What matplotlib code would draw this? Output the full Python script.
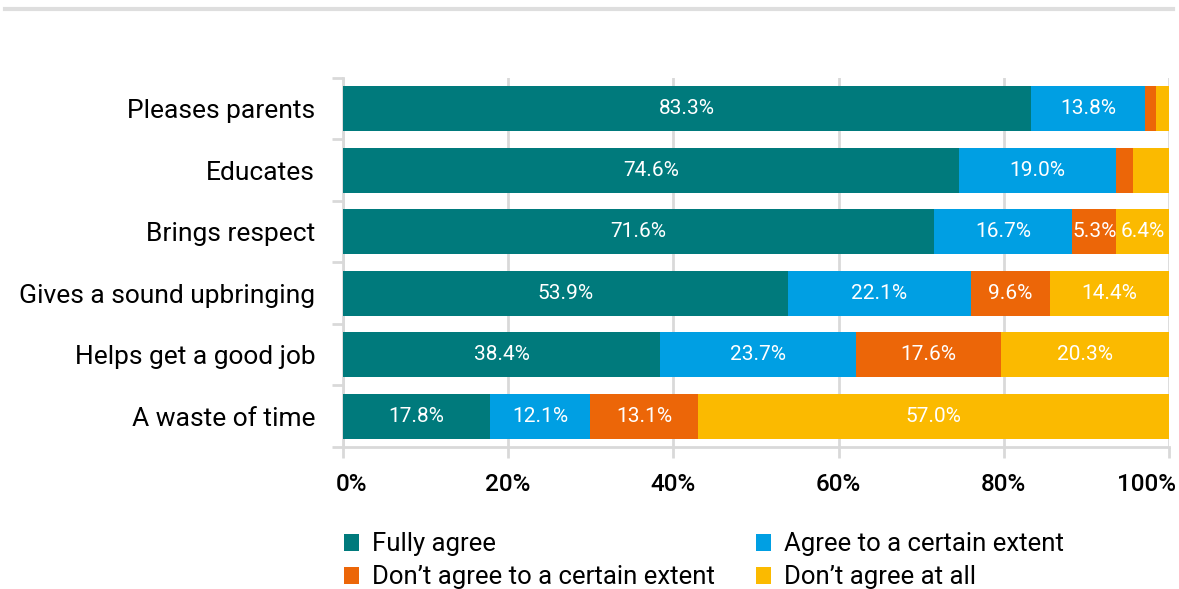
import matplotlib
matplotlib.use("Agg")
import matplotlib.pyplot as plt
from matplotlib.lines import Line2D
from matplotlib.patches import Patch
from matplotlib.transforms import ScaledTranslation
import numpy as np

categories = ["Pleases parents", "Educates", "Brings respect",
              "Gives a sound upbringing", "Helps get a good job", "A waste of time"]
series_names = ["Fully agree", "Agree to a certain extent",
                "Don\u2019t agree to a certain extent", "Don\u2019t agree at all"]
fully_agree = [83.3, 74.6, 71.6, 53.9, 38.4, 17.8]
agree_somewhat = [13.8, 19.0, 16.7, 22.1, 23.7, 12.1]
disagree_somewhat = [1.3, 2.0, 5.3, 9.6, 17.6, 13.1]
disagree_all = [1.6, 4.4, 6.4, 14.4, 20.3, 57.0]
# segments too narrow to carry a label
unlabeled = [(0, 2), (0, 3), (1, 2), (1, 3)]
tick_values = [0, 20, 40, 60, 80, 100]
tick_labels = ["0%", "20%", "40%", "60%", "80%", "100%"]

colors = ["#007A7C", "#009FE3", "#EC6608", "#FBBA00"]
plt.rcParams["font.family"] = ["Roboto", "DejaVu Sans"]

fig = plt.figure(figsize=(11.79, 5.89), dpi=100)
ax = fig.add_axes([0.2909, 0.2411, 0.9915 - 0.2909, 0.8676 - 0.2411])

series = [fully_agree, agree_somewhat, disagree_somewhat, disagree_all]
y = np.arange(len(categories))
left = np.zeros(len(categories))
for si, (vals, col) in enumerate(zip(series, colors)):
    vals = np.array(vals)
    ax.barh(y, vals, left=left, height=0.73, color=col, zorder=3)
    for ci, v in enumerate(vals):
        if (ci, si) in unlabeled:
            continue
        ax.text(left[ci] + v / 2, y[ci], f"{v:.1f}%", ha="center", va="center",
                color="white", fontsize=15, zorder=4)
    left += vals

ax.set_xlim(0, 100)
ax.set_ylim(len(categories) - 0.5, -0.5)
ax.set_xticks(tick_values)
ax.set_xticklabels(tick_labels, fontsize=17.5, fontweight="medium")
ax.set_yticks(y)
ax.set_yticklabels(categories, fontsize=19)
ax.tick_params(axis="y", length=0, pad=20)
ax.tick_params(axis="x", length=8, width=2, color="#D9D9D9", pad=11)

# keep the end labels inside the plotting width
xt = ax.get_xticklabels()
xt[0].set_horizontalalignment("left")
xt[0].set_transform(xt[0].get_transform() + ScaledTranslation(-7 / 100, 0, fig.dpi_scale_trans))
xt[-1].set_horizontalalignment("right")
xt[-1].set_transform(xt[-1].get_transform() + ScaledTranslation(7 / 100, 0, fig.dpi_scale_trans))

# boundary ticks on the category axis
ax.set_yticks(np.arange(len(categories) + 1) - 0.5, minor=True)
ax.tick_params(axis="y", which="minor", length=8, width=2, color="#D9D9D9")

ax.grid(axis="x", color="#D9D9D9", linewidth=2, zorder=0)
for s in ["top", "right"]:
    ax.spines[s].set_visible(False)
for s in ["left", "bottom"]:
    ax.spines[s].set_color("#D9D9D9")
    ax.spines[s].set_linewidth(2)

# header rule
fig.add_artist(Line2D([0.004, 0.995], [0.984, 0.984], color="#DEDEDE", linewidth=3,
                      transform=fig.transFigure))

# legend filled column by column: two rows, two columns
order = [0, 2, 1, 3]
handles = [Patch(facecolor=colors[i], edgecolor="none") for i in order]
labels = [series_names[i] for i in order]
leg = fig.legend(handles, labels, ncol=2, loc="upper left",
                 bbox_to_anchor=(0.2915, 0.096), frameon=False, fontsize=18.5,
                 handlelength=0.6, handleheight=0.6, handletextpad=0.5,
                 columnspacing=1.6, labelspacing=0.35, borderaxespad=0,
                 borderpad=0)

fig.savefig("out.png", dpi=100, facecolor="white")
